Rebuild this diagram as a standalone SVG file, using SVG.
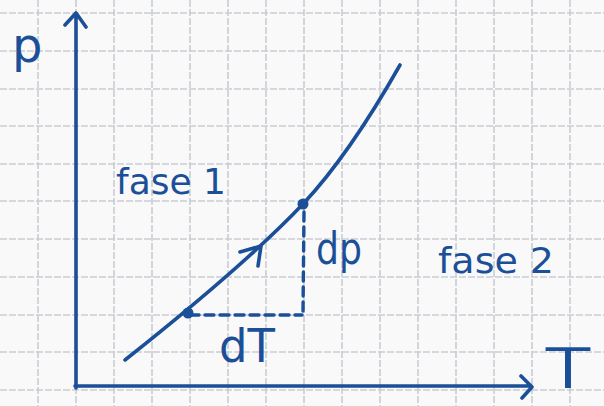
<svg xmlns="http://www.w3.org/2000/svg" width="604" height="406" viewBox="0 0 604 406">
<style>
.grid line{stroke:#c9cdd3;stroke-width:1.6;stroke-dasharray:7 2}
.ink{stroke:#1b4f98;stroke-width:3.6;fill:none;stroke-linecap:round;stroke-linejoin:round}
.dash{stroke:#1b4f98;stroke-width:3.4;fill:none;stroke-dasharray:9 6;stroke-linecap:round}
.lbl{fill:#1b4f98;font-family:"DejaVu Sans","Noto Sans",sans-serif}
</style>
<rect width="604" height="406" fill="#f9f9f9"/>
<g class="grid">
<line x1="38" y1="0" x2="38" y2="406"/><line x1="76" y1="0" x2="76" y2="406"/><line x1="114" y1="0" x2="114" y2="406"/><line x1="152" y1="0" x2="152" y2="406"/><line x1="190" y1="0" x2="190" y2="406"/><line x1="228" y1="0" x2="228" y2="406"/><line x1="266" y1="0" x2="266" y2="406"/><line x1="304" y1="0" x2="304" y2="406"/><line x1="342" y1="0" x2="342" y2="406"/><line x1="380" y1="0" x2="380" y2="406"/><line x1="418" y1="0" x2="418" y2="406"/><line x1="456" y1="0" x2="456" y2="406"/><line x1="494" y1="0" x2="494" y2="406"/><line x1="532" y1="0" x2="532" y2="406"/><line x1="570" y1="0" x2="570" y2="406"/>
<line x1="0" y1="13" x2="604" y2="13"/><line x1="0" y1="51" x2="604" y2="51"/><line x1="0" y1="89" x2="604" y2="89"/><line x1="0" y1="126" x2="604" y2="126"/><line x1="0" y1="164" x2="604" y2="164"/><line x1="0" y1="201" x2="604" y2="201"/><line x1="0" y1="239" x2="604" y2="239"/><line x1="0" y1="277" x2="604" y2="277"/><line x1="0" y1="315" x2="604" y2="315"/><line x1="0" y1="352" x2="604" y2="352"/><line x1="0" y1="390" x2="604" y2="390"/>
</g>
<g id="connectors">
<path id="p-axis" class="ink" d="M76,388 L76,14 M65,25 L76,13 L86,27"/>
<path id="t-axis" class="ink" d="M75,386 L531,386 M521,376 L532,387 L522,398"/>
<path id="curve" class="ink" d="M125,360 Q245,265 303,204 Q349,155 400,65"/>
<path id="curve-arrow" class="ink" d="M240,252 L261,246 L258,266"/>
<path id="dT-line" class="dash" d="M190,315 L302,315"/>
<path id="dp-line" class="dash" d="M304,212 L303,313"/>
</g>
<g id="point-1"><circle cx="188" cy="313" r="5.5" fill="#1b4f98"/></g>
<g id="point-2"><circle cx="303" cy="204" r="5.5" fill="#1b4f98"/></g>
<g id="label-p"><text class="lbl" x="12" y="62" font-size="48">p</text></g>
<g id="label-fase1"><text class="lbl" x="116" y="194" font-size="36" textLength="110" lengthAdjust="spacingAndGlyphs">fase 1</text></g>
<g id="label-fase2"><text class="lbl" x="438" y="273" font-size="36" textLength="116" lengthAdjust="spacingAndGlyphs">fase 2</text></g>
<g id="label-dp"><text class="lbl" x="316" y="264" font-size="44" textLength="46" lengthAdjust="spacingAndGlyphs">dp</text></g>
<g id="label-dT"><text class="lbl" x="219" y="362" font-size="46" textLength="56" lengthAdjust="spacingAndGlyphs">dT</text></g>
<g id="label-T"><text class="lbl" x="545" y="387" font-size="54" font-weight="200" stroke="#1b4f98" stroke-width="1.6" textLength="46" lengthAdjust="spacingAndGlyphs">T</text></g>
</svg>
